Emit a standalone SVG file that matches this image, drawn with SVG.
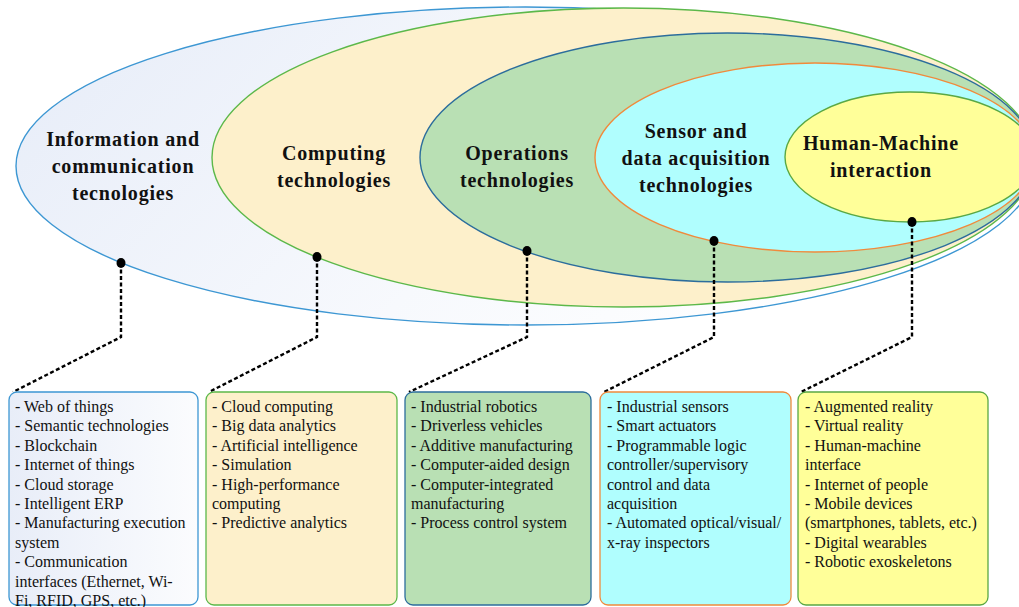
<svg xmlns="http://www.w3.org/2000/svg" width="1019" height="607" viewBox="0 0 1019 607">
<defs>
<linearGradient id="gIct" x1="0" y1="0" x2="1" y2="0.3">
<stop offset="0" stop-color="#e6ecf8"/>
<stop offset="0.6" stop-color="#f7f9fd"/>
<stop offset="1" stop-color="#ffffff"/>
</linearGradient>
<linearGradient id="gBox1" x1="0" y1="0" x2="1" y2="0">
<stop offset="0" stop-color="#e8edf8"/>
<stop offset="1" stop-color="#fbfcfe"/>
</linearGradient>
</defs>
<style>
.lbl{font-family:"Liberation Serif","Times New Roman",serif;font-weight:bold;font-size:20px;fill:#111;text-anchor:middle;letter-spacing:0.8px}
.item{font-family:"Liberation Serif","Times New Roman",serif;font-size:16px;fill:#111}
.box{stroke-width:1.3}
.ell{stroke-width:1.4}
.conn{fill:none;stroke:#000;stroke-width:2.4;stroke-dasharray:4 2.5}
.dot{fill:#000}
</style>
<g id="ict">
<ellipse class="ell" cx="525.5" cy="166" rx="509.5" ry="159" fill="url(#gIct)" stroke="#3d97d3"/>
<text class="lbl" x="123" y="146">Information and</text>
<text class="lbl" x="123" y="173">communication</text>
<text class="lbl" x="123" y="200">tecnologies</text>
</g>
<g id="computing">
<ellipse class="ell" cx="623.5" cy="157.5" rx="411.5" ry="149.5" fill="#fdf0cb" stroke="#5cb84a"/>
<text class="lbl" x="334" y="160">Computing</text>
<text class="lbl" x="334" y="187">technologies</text>
</g>
<g id="operations">
<ellipse class="ell" cx="727.5" cy="157.5" rx="307.5" ry="124.5" fill="#b9e0b4" stroke="#2c6d9c"/>
<text class="lbl" x="517" y="160">Operations</text>
<text class="lbl" x="517" y="187">technologies</text>
</g>
<g id="sensor">
<ellipse class="ell" cx="815" cy="157.5" rx="220" ry="94.5" fill="#b0fefe" stroke="#f08a3c"/>
<text class="lbl" x="696" y="138">Sensor and</text>
<text class="lbl" x="696" y="165">data acquisition</text>
<text class="lbl" x="696" y="192">technologies</text>
</g>
<g id="hmi">
<ellipse class="ell" cx="910" cy="157" rx="125" ry="65" fill="#ffff99" stroke="#5aa844"/>
<text class="lbl" x="881" y="150">Human-Machine</text>
<text class="lbl" x="881" y="177">interaction</text>
</g>
<g id="connectors">
<path class="conn" d="M121,263 V337 L13,392"/>
<path class="conn" d="M317,257 V337 L209,392"/>
<path class="conn" d="M527,251 V337 L409,392"/>
<path class="conn" d="M714,241 V337 L604,392"/>
<path class="conn" d="M912,222 V337 L801,392"/>
<ellipse class="dot" cx="121" cy="263" rx="4.5" ry="5"/>
<ellipse class="dot" cx="317" cy="257" rx="4.5" ry="5"/>
<ellipse class="dot" cx="527" cy="251" rx="4.5" ry="5"/>
<ellipse class="dot" cx="714" cy="241" rx="4.5" ry="5"/>
<ellipse class="dot" cx="912" cy="222" rx="4.5" ry="5"/>
</g>
<g id="box-ict">
<rect class="box" x="9" y="392" width="189" height="213" rx="8" fill="url(#gBox1)" stroke="#3d97d3"/>
<text class="item" x="15" y="412">- Web of things</text>
<text class="item" x="15" y="431.4">- Semantic technologies</text>
<text class="item" x="15" y="450.8">- Blockchain</text>
<text class="item" x="15" y="470.2">- Internet of things</text>
<text class="item" x="15" y="489.6">- Cloud storage</text>
<text class="item" x="15" y="509">- Intelligent ERP</text>
<text class="item" x="15" y="528.4">- Manufacturing execution</text>
<text class="item" x="15" y="547.8">system</text>
<text class="item" x="15" y="567.2">- Communication</text>
<text class="item" x="15" y="586.6">interfaces (Ethernet, Wi-</text>
<text class="item" x="15" y="606">Fi, RFID, GPS, etc.)</text>
</g>
<g id="box-computing">
<rect class="box" x="206" y="392" width="191" height="213" rx="8" fill="#fdf0cb" stroke="#5cb84a"/>
<text class="item" x="212" y="412">- Cloud computing</text>
<text class="item" x="212" y="431.4">- Big data analytics</text>
<text class="item" x="212" y="450.8">- Artificial intelligence</text>
<text class="item" x="212" y="470.2">- Simulation</text>
<text class="item" x="212" y="489.6">- High-performance</text>
<text class="item" x="212" y="509">computing</text>
<text class="item" x="212" y="528.4">- Predictive analytics</text>
</g>
<g id="box-operations">
<rect class="box" x="405" y="392" width="186" height="213" rx="8" fill="#b9e0b4" stroke="#2c6d9c"/>
<text class="item" x="411" y="412">- Industrial robotics</text>
<text class="item" x="411" y="431.4">- Driverless vehicles</text>
<text class="item" x="411" y="450.8">- Additive manufacturing</text>
<text class="item" x="411" y="470.2">- Computer-aided design</text>
<text class="item" x="411" y="489.6">- Computer-integrated</text>
<text class="item" x="411" y="509">manufacturing</text>
<text class="item" x="411" y="528.4">- Process control system</text>
</g>
<g id="box-sensor">
<rect class="box" x="600" y="392" width="191" height="213" rx="8" fill="#b0fefe" stroke="#f08a3c"/>
<text class="item" x="607" y="412">- Industrial sensors</text>
<text class="item" x="607" y="431.4">- Smart actuators</text>
<text class="item" x="607" y="450.8">- Programmable logic</text>
<text class="item" x="607" y="470.2">controller/supervisory</text>
<text class="item" x="607" y="489.6">control and data</text>
<text class="item" x="607" y="509">acquisition</text>
<text class="item" x="607" y="528.4">- Automated optical/visual/</text>
<text class="item" x="607" y="547.8">x-ray inspectors</text>
</g>
<g id="box-hmi">
<rect class="box" x="798" y="392" width="190" height="213" rx="8" fill="#ffff99" stroke="#5aa844"/>
<text class="item" x="805" y="412">- Augmented reality</text>
<text class="item" x="805" y="431.4">- Virtual reality</text>
<text class="item" x="805" y="450.8">- Human-machine</text>
<text class="item" x="805" y="470.2">interface</text>
<text class="item" x="805" y="489.6">- Internet of people</text>
<text class="item" x="805" y="509">- Mobile devices</text>
<text class="item" x="805" y="528.4">(smartphones, tablets, etc.)</text>
<text class="item" x="805" y="547.8">- Digital wearables</text>
<text class="item" x="805" y="567.2">- Robotic exoskeletons</text>
</g>
</svg>
